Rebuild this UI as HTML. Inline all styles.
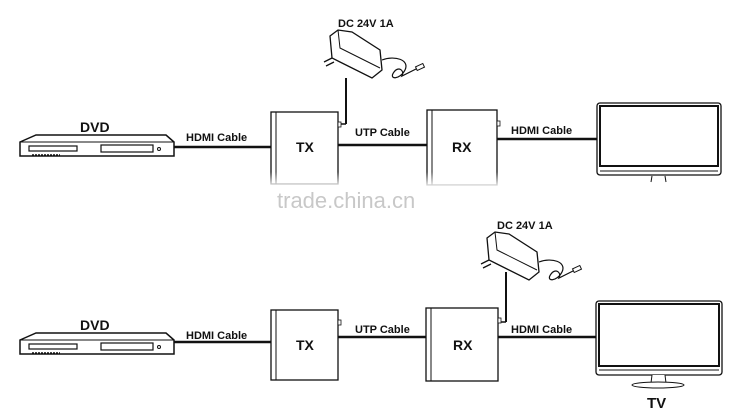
<!DOCTYPE html>
<html><head><style>
html,body{margin:0;padding:0;background:#fff;}
svg{display:block;}
text{font-family:"Liberation Sans",Arial,sans-serif;font-weight:bold;fill:#111;}
text.wm{font-weight:normal;fill:#c8c8c8;}
</style></head><body>
<svg width="731" height="412" viewBox="0 0 731 412" xmlns="http://www.w3.org/2000/svg">
<defs>
<g id="dvd">
  <path d="M20,142 L36,135 L166,135 L174,142 L174,156 L20,156 Z" fill="#fff" stroke="#111" stroke-width="1.5"/>
  <line x1="20" y1="142" x2="174" y2="142" stroke="#111" stroke-width="1"/>
  <rect x="29" y="146" width="48" height="5" fill="#fff" stroke="#111" stroke-width="1.2"/>
  <rect x="101" y="145" width="52" height="7" fill="#fff" stroke="#111" stroke-width="1.2"/>
  <circle cx="159" cy="149" r="1.5" fill="none" stroke="#111"/>
  <line x1="32" y1="155" x2="60" y2="155" stroke="#111" stroke-width="1.5" stroke-dasharray="2,1"/>
</g>
<g id="adapter">
  <path d="M0,6 L8,0 L22,2 L50,20 L52,40 L42,48 L10,32 L2,28 Z" fill="#fff" stroke="#111" stroke-width="1.3"/>
  <path d="M8,0 L10,18 L50,38" fill="none" stroke="#111" stroke-width="1"/>
  <path d="M2,28 L-6,32 M4,32 L-4,36" stroke="#111" stroke-width="1.3"/>
  <path d="M52,30 C65,25 80,30 75,40 C70,50 58,50 64,42 C68,36 75,40 72,46 L88,38" fill="none" stroke="#111" stroke-width="1.2"/>
  <rect x="86" y="35" width="8" height="4" fill="#fff" stroke="#111" transform="rotate(-25 90 37)"/>
</g>
<linearGradient id="fade" x1="0" y1="0" x2="0" y2="1">
  <stop offset="0" stop-color="#fff" stop-opacity="0"/>
  <stop offset="1" stop-color="#fff" stop-opacity="1"/>
</linearGradient>
</defs>

<!-- TOP ROW -->
<text x="80" y="132" font-size="14">DVD</text>
<use href="#dvd"/>
<line x1="174" y1="147" x2="271" y2="147" stroke="#111" stroke-width="2.5"/>
<text x="186" y="141" font-size="11">HDMI Cable</text>
<rect x="271" y="112" width="67" height="72" fill="#fff" stroke="#111" stroke-width="1.3"/>
<line x1="276" y1="112" x2="276" y2="184" stroke="#111" stroke-width="1"/>
<text x="296" y="152" font-size="14">TX</text>
<rect x="338" y="122" width="3" height="5" fill="#fff" stroke="#111" stroke-width="0.8"/>
<line x1="346" y1="78" x2="346" y2="124" stroke="#111" stroke-width="2"/>
<line x1="341" y1="124" x2="346" y2="124" stroke="#111" stroke-width="1.5"/>
<use href="#adapter" transform="translate(330,30)"/>
<text x="338" y="27" font-size="11">DC 24V 1A</text>
<line x1="338" y1="145" x2="427" y2="145" stroke="#111" stroke-width="2.5"/>
<text x="355" y="136" font-size="11">UTP Cable</text>
<rect x="427" y="110" width="70" height="75" fill="#fff" stroke="#111" stroke-width="1.3"/>
<line x1="432" y1="110" x2="432" y2="185" stroke="#111" stroke-width="1"/>
<text x="452" y="152" font-size="14">RX</text>
<rect x="497" y="121" width="3" height="5" fill="#fff" stroke="#111" stroke-width="0.8"/>
<line x1="497" y1="139" x2="597" y2="139" stroke="#111" stroke-width="2.5"/>
<text x="511" y="134" font-size="11">HDMI Cable</text>
<rect x="597" y="103" width="124" height="72" rx="3" fill="#fff" stroke="#111" stroke-width="1.3"/>
<rect x="600" y="106" width="118" height="60" fill="#fff" stroke="#111" stroke-width="2"/>
<line x1="600" y1="171" x2="718" y2="171" stroke="#111" stroke-width="1"/>
<line x1="652" y1="176" x2="651" y2="182" stroke="#111"/>
<line x1="665" y1="176" x2="666" y2="182" stroke="#111"/>
<rect x="265" y="172" width="240" height="16" fill="url(#fade)"/>
<text class="wm" x="277" y="208" font-size="22">trade.china.cn</text>

<!-- BOTTOM ROW -->
<text x="80" y="330" font-size="14">DVD</text>
<use href="#dvd" transform="translate(0,198)"/>
<line x1="174" y1="342" x2="271" y2="342" stroke="#111" stroke-width="2.5"/>
<text x="186" y="339" font-size="11">HDMI Cable</text>
<rect x="271" y="310" width="67" height="70" fill="#fff" stroke="#111" stroke-width="1.3"/>
<line x1="276" y1="310" x2="276" y2="380" stroke="#111" stroke-width="1"/>
<text x="296" y="350" font-size="14">TX</text>
<rect x="338" y="320" width="3" height="5" fill="#fff" stroke="#111" stroke-width="0.8"/>
<line x1="338" y1="337" x2="426" y2="337" stroke="#111" stroke-width="2.5"/>
<text x="355" y="333" font-size="11">UTP Cable</text>
<rect x="426" y="308" width="72" height="73" fill="#fff" stroke="#111" stroke-width="1.3"/>
<line x1="431" y1="308" x2="431" y2="381" stroke="#111" stroke-width="1"/>
<text x="453" y="350" font-size="14">RX</text>
<rect x="498" y="318" width="3" height="5" fill="#fff" stroke="#111" stroke-width="0.8"/>
<line x1="506" y1="272" x2="506" y2="322" stroke="#111" stroke-width="2"/>
<line x1="501" y1="322" x2="506" y2="322" stroke="#111" stroke-width="1.5"/>
<use href="#adapter" transform="translate(487,232)"/>
<text x="497" y="229" font-size="11">DC 24V 1A</text>
<line x1="498" y1="337" x2="596" y2="337" stroke="#111" stroke-width="2.5"/>
<text x="511" y="333" font-size="11">HDMI Cable</text>
<rect x="596" y="301" width="126" height="74" rx="3" fill="#fff" stroke="#111" stroke-width="1.3"/>
<rect x="599" y="304" width="120" height="62" fill="#fff" stroke="#111" stroke-width="2"/>
<line x1="599" y1="370" x2="719" y2="370" stroke="#111" stroke-width="1"/>
<path d="M652,375 L651,383 L666,383 L665,375" fill="#fff" stroke="#111"/>
<ellipse cx="658" cy="385" rx="26" ry="3" fill="#fff" stroke="#111"/>
<text x="647" y="408" font-size="15">TV</text>
</svg>
</body></html>
